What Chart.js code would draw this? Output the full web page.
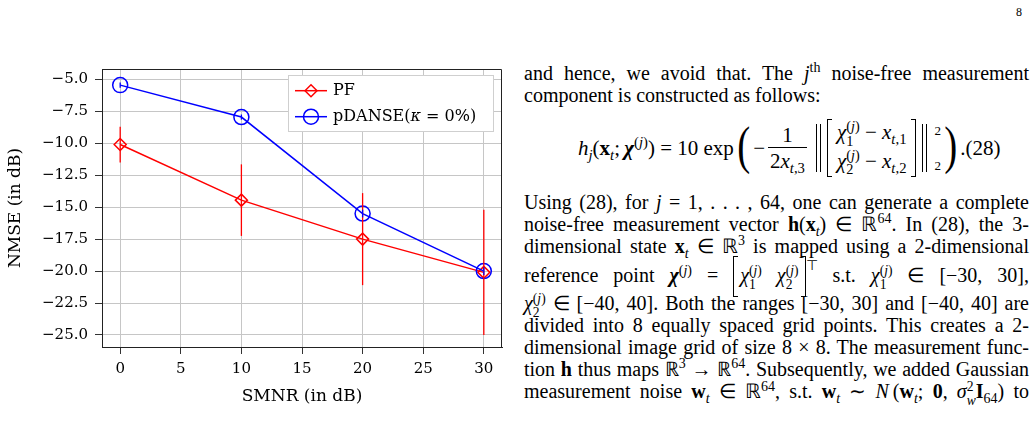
<!DOCTYPE html>
<html>
<head>
<meta charset="utf-8">
<script src="https://cdn.jsdelivr.net/npm/chart.js@4.4.1/dist/chart.umd.min.js"></script>
<style>
  html, body { margin: 0; padding: 0; background: #fff; }
  body { width: 1035px; height: 426px; position: relative; overflow: hidden;
         font-family: 'Liberation Serif', 'Times New Roman', serif; color: #000; }
  #plot { position: absolute; left: 0; top: 0; }
  .pg { position: absolute; left: 1016px; top: 5px; font-size: 12px; }
  .ln { position: absolute; left: 524px; width: 505px; font-size: 20px; line-height: 22px;
        height: 22px; text-align: justify; text-align-last: justify; }
  .ln.last { text-align-last: left; }
  sup, sub { font-size: 0.7em; line-height: 0; }
  .ss { display: inline-flex; flex-direction: column; font-size: 0.68em; line-height: 1;
        vertical-align: 0.55em; }
  .imat { display: inline-block; position: relative; padding: 0 7px; }
  .imat::before, .imat::after { content: ''; position: absolute; top: -8px; bottom: -6px; width: 4px;
        border: 1px solid #000; }
  .imat::before { left: 0; border-right: none; }
  .imat::after { right: 0; border-left: none; }
  #eq { position: absolute; left: 578px; top: 117px; height: 62px; display: flex; align-items: center;
        font-size: 21px; line-height: 24px; white-space: nowrap; }
  .bp { font-size: 52px; line-height: 52px; transform: scaleX(0.75); margin: -4px 1px 0; }
  .frac { display: inline-flex; flex-direction: column; align-items: center; margin: 0 3px; }
  .frac .den { border-top: 1px solid #000; padding: 1px 2px 0; }
  .norm { width: 3px; height: 48px; border-left: 1px solid #000; border-right: 1px solid #000; margin: 0 6px; }
  .mat { position: relative; padding: 0 10px; display: flex; flex-direction: column; }
  .mat::before, .mat::after { content: ''; position: absolute; top: 0; bottom: 0; width: 4px; border: 1.2px solid #000; }
  .mat::before { left: 0; border-right: none; }
  .mat::after { right: 0; border-left: none; }
  .lims { display: flex; flex-direction: column; justify-content: space-between; height: 48px; font-size: 13px; line-height: 13px; margin-left: 1px; }
</style>
</head>
<body>
<canvas id="plot" width="515" height="426"></canvas>

<div class="pg">8</div>

<div class="ln" style="top:62px">and hence, we avoid that. The <i>j</i><sup>th</sup> noise-free measurement</div>
<div class="ln last" style="top:84px">component is constructed as follows:</div>

<div id="eq">
  <span><i>h<sub>j</sub></i>(<b>x</b><sub><i>t</i></sub>;&thinsp;<b><i>χ</i></b><sup>(<i>j</i>)</sup>) = 10&nbsp;exp</span>
  <span class="bp">(</span>
  <span>−</span>
  <span class="frac"><span>1</span><span class="den">2<i>x</i><sub><i>t</i>,3</sub></span></span>
  <span class="norm"></span>
  <span class="mat">
    <span><i>χ</i><span class="ss"><span>(<i>j</i>)</span><span>1</span></span> − <i>x</i><sub><i>t</i>,1</sub></span>
    <span><i>χ</i><span class="ss"><span>(<i>j</i>)</span><span>2</span></span> − <i>x</i><sub><i>t</i>,2</sub></span>
  </span>
  <span class="norm"></span>
  <span class="lims"><span>2</span><span>2</span></span>
  <span class="bp">)</span>
  <span>.(28)</span>
</div>

<div class="ln" style="top:191px">Using (28), for <i>j</i> = 1, . . . , 64, one can generate a complete</div>
<div class="ln" style="top:213px">noise-free measurement vector <b>h</b>(<b>x</b><sub><i>t</i></sub>) ∈ ℝ<sup>64</sup>. In (28), the 3-</div>
<div class="ln" style="top:235px">dimensional state <b>x</b><sub><i>t</i></sub> ∈ ℝ<sup>3</sup> is mapped using a 2-dimensional</div>
<div class="ln" style="top:264px">reference point <b><i>χ</i></b><sup>(<i>j</i>)</sup> = <span class="imat"><i>χ</i><span class="ss"><span>(<i>j</i>)</span><span>1</span></span>&nbsp;&nbsp;&nbsp;<i>χ</i><span class="ss"><span>(<i>j</i>)</span><span>2</span></span></span><sup style="vertical-align:0.9em">⊤</sup> s.t. <i>χ</i><span class="ss"><span>(<i>j</i>)</span><span>1</span></span> ∈ [−30, 30],</div>
<div class="ln" style="top:292px"><i>χ</i><span class="ss"><span>(<i>j</i>)</span><span>2</span></span> ∈ [−40, 40]. Both the ranges [−30, 30] and [−40, 40] are</div>
<div class="ln" style="top:314px">divided into 8 equally spaced grid points. This creates a 2-</div>
<div class="ln" style="top:336px">dimensional image grid of size 8 × 8. The measurement func-</div>
<div class="ln" style="top:358px">tion <b>h</b> thus maps ℝ<sup>3</sup> → ℝ<sup>64</sup>. Subsequently, we added Gaussian</div>
<div class="ln" style="top:380px">measurement noise <b>w</b><sub><i>t</i></sub> ∈ ℝ<sup>64</sup>, s.t. <b>w</b><sub><i>t</i></sub> ∼ <i>N</i>&thinsp;(<b>w</b><sub><i>t</i></sub>; <b>0</b>, <i>σ</i><span class="ss"><span>2</span><span><i>w</i></span></span><b>I</b><sub>64</sub>) to</div>

<script>
// SMNR values (dB) on the x axis
const smnr = [0, 10, 20, 30];

// PF: mean NMSE (dB) and half-width of the error bar
const pfNmse = [-10.1, -14.45, -17.5, -20.1];
const pfErr = [1.4, 2.8, 3.6, 4.9];

// pDANSE (kappa = 0%)
const pdanseNmse = [-5.45, -7.95, -15.5, -20.0];
const pdanseErr = [0.2, 0.2, 0.3, 0.3];

const xTicks = [0, 5, 10, 15, 20, 25, 30];
const yTicks = [-25, -22.5, -20, -17.5, -15, -12.5, -10, -7.5, -5];

const tickFont = { family: 'DejaVu Serif', size: 15 };
const titleFont = { family: 'DejaVu Serif', size: 17 };

const toPoints = (ys) => smnr.map((x, i) => ({ x: x, y: ys[i] }));
const fmtMinus = (s) => s.replace('-', '\u2212');

// error bars drawn through the chart's own scales
const errorBars = {
  id: 'errorBars',
  afterDatasetsDraw(chart) {
    const { ctx, scales } = chart;
    chart.data.datasets.forEach((ds) => {
      if (!ds.errors) return;
      ctx.save();
      ctx.strokeStyle = ds.borderColor;
      ctx.lineWidth = 1.3;
      ds.data.forEach((p, i) => {
        const px = scales.x.getPixelForValue(p.x);
        ctx.beginPath();
        ctx.moveTo(px, scales.y.getPixelForValue(p.y + ds.errors[i]));
        ctx.lineTo(px, scales.y.getPixelForValue(p.y - ds.errors[i]));
        ctx.stroke();
      });
      ctx.restore();
    });
  }
};

// top and right edges of the axis box
const frame = {
  id: 'frame',
  beforeDatasetsDraw(chart) {
    const { ctx, chartArea: a } = chart;
    ctx.save();
    ctx.strokeStyle = '#222';
    ctx.lineWidth = 1;
    ctx.beginPath();
    ctx.moveTo(Math.round(a.left) + 0.5, Math.round(a.top) + 0.5);
    ctx.lineTo(Math.round(a.right) - 0.5, Math.round(a.top) + 0.5);
    ctx.lineTo(Math.round(a.right) - 0.5, Math.round(a.bottom));
    ctx.stroke();
    ctx.restore();
  }
};

function marker(ctx, style, x, y, r) {
  ctx.beginPath();
  if (style === 'circle') {
    ctx.arc(x, y, r, 0, Math.PI * 2);
  } else {
    ctx.moveTo(x - r, y); ctx.lineTo(x, y - r); ctx.lineTo(x + r, y); ctx.lineTo(x, y + r);
    ctx.closePath();
  }
  ctx.stroke();
}

// legend box in the upper right of the plot
const legendBox = {
  id: 'legendBox',
  afterDraw(chart) {
    const { ctx, chartArea: a } = chart;
    const w = 205, h = 56;
    const x0 = a.right - 9 - w, y0 = a.top + 6;
    ctx.save();
    ctx.fillStyle = '#fff';
    ctx.fillRect(x0, y0, w, h);
    ctx.strokeStyle = '#cfcfcf';
    ctx.lineWidth = 1;
    ctx.strokeRect(Math.round(x0) + 0.5, Math.round(y0) + 0.5, w, h);
    const rows = [y0 + 15.7, y0 + 41.7];
    chart.data.datasets.forEach((ds, i) => {
      const y = rows[i];
      ctx.strokeStyle = ds.borderColor;
      ctx.lineWidth = 1.5;
      ctx.beginPath();
      ctx.moveTo(x0 + 7, y); ctx.lineTo(x0 + 39, y);
      ctx.stroke();
      marker(ctx, ds.pointStyle, x0 + 23, y, ds.pointRadius);
      ctx.fillStyle = '#000';
      ctx.textBaseline = 'middle';
      let tx = x0 + 45;
      ds.legendParts.forEach(([txt, italic]) => {
        ctx.font = (italic ? 'italic ' : '') + '16px "DejaVu Serif"';
        ctx.fillText(txt, tx, y);
        tx += ctx.measureText(txt).width;
      });
    });
    ctx.restore();
  }
};

new Chart(document.getElementById('plot'), {
  type: 'line',
  data: {
    datasets: [
      {
        label: 'PF',
        legendParts: [['PF', false]],
        data: toPoints(pfNmse),
        errors: pfErr,
        borderColor: '#ff0000',
        backgroundColor: 'rgba(0,0,0,0)',
        borderWidth: 1.5,
        pointStyle: 'rectRot',
        pointRadius: 6,
        pointBorderWidth: 1.5,
        pointBackgroundColor: 'rgba(0,0,0,0)',
        tension: 0,
        order: 2
      },
      {
        label: 'pDANSE(κ = 0%)',
        legendParts: [['pDANSE(', false], ['κ', true], [' = 0%)', false]],
        data: toPoints(pdanseNmse),
        errors: pdanseErr,
        borderColor: '#0000ff',
        backgroundColor: 'rgba(0,0,0,0)',
        borderWidth: 1.5,
        pointStyle: 'circle',
        pointRadius: 7.5,
        pointBorderWidth: 1.5,
        pointBackgroundColor: 'rgba(0,0,0,0)',
        tension: 0,
        order: 1
      }
    ]
  },
  options: {
    responsive: false,
    animation: false,
    layout: { padding: { top: 69, right: 13, bottom: 0, left: 0 } },
    plugins: {
      legend: { display: false },
      tooltip: { enabled: false }
    },
    scales: {
      x: {
        type: 'linear',
        min: -1.5,
        max: 31.5,
        afterBuildTicks: (s) => { s.ticks = xTicks.map(v => ({ value: v })); },
        afterFit: (s) => { s.height = 79; },
        grid: { color: '#c6c6c6', lineWidth: 1, tickColor: '#333', tickLength: 7 },
        border: { color: '#222', width: 1 },
        ticks: { font: tickFont, color: '#000', padding: 6, maxRotation: 0, autoSkip: false,
                 callback: (v) => fmtMinus(String(v)) },
        title: { display: true, text: 'SMNR (in dB)', font: titleFont, color: '#000',
                 padding: { top: 0, bottom: 19 } }
      },
      y: {
        type: 'linear',
        min: -25.94,
        max: -4.19,
        afterBuildTicks: (s) => { s.ticks = yTicks.map(v => ({ value: v })); },
        afterFit: (s) => { s.width = 102; },
        grid: { color: '#c6c6c6', lineWidth: 1, tickColor: '#333', tickLength: 7 },
        border: { color: '#222', width: 1 },
        ticks: { font: tickFont, color: '#000', padding: 7, autoSkip: false,
                 callback: (v) => fmtMinus(v.toFixed(1)) },
        title: { display: true, text: 'NMSE (in dB)', font: titleFont, color: '#000',
                 padding: { top: 5, bottom: 0 } }
      }
    }
  },
  plugins: [frame, errorBars, legendBox]
});
</script>
</body>
</html>
